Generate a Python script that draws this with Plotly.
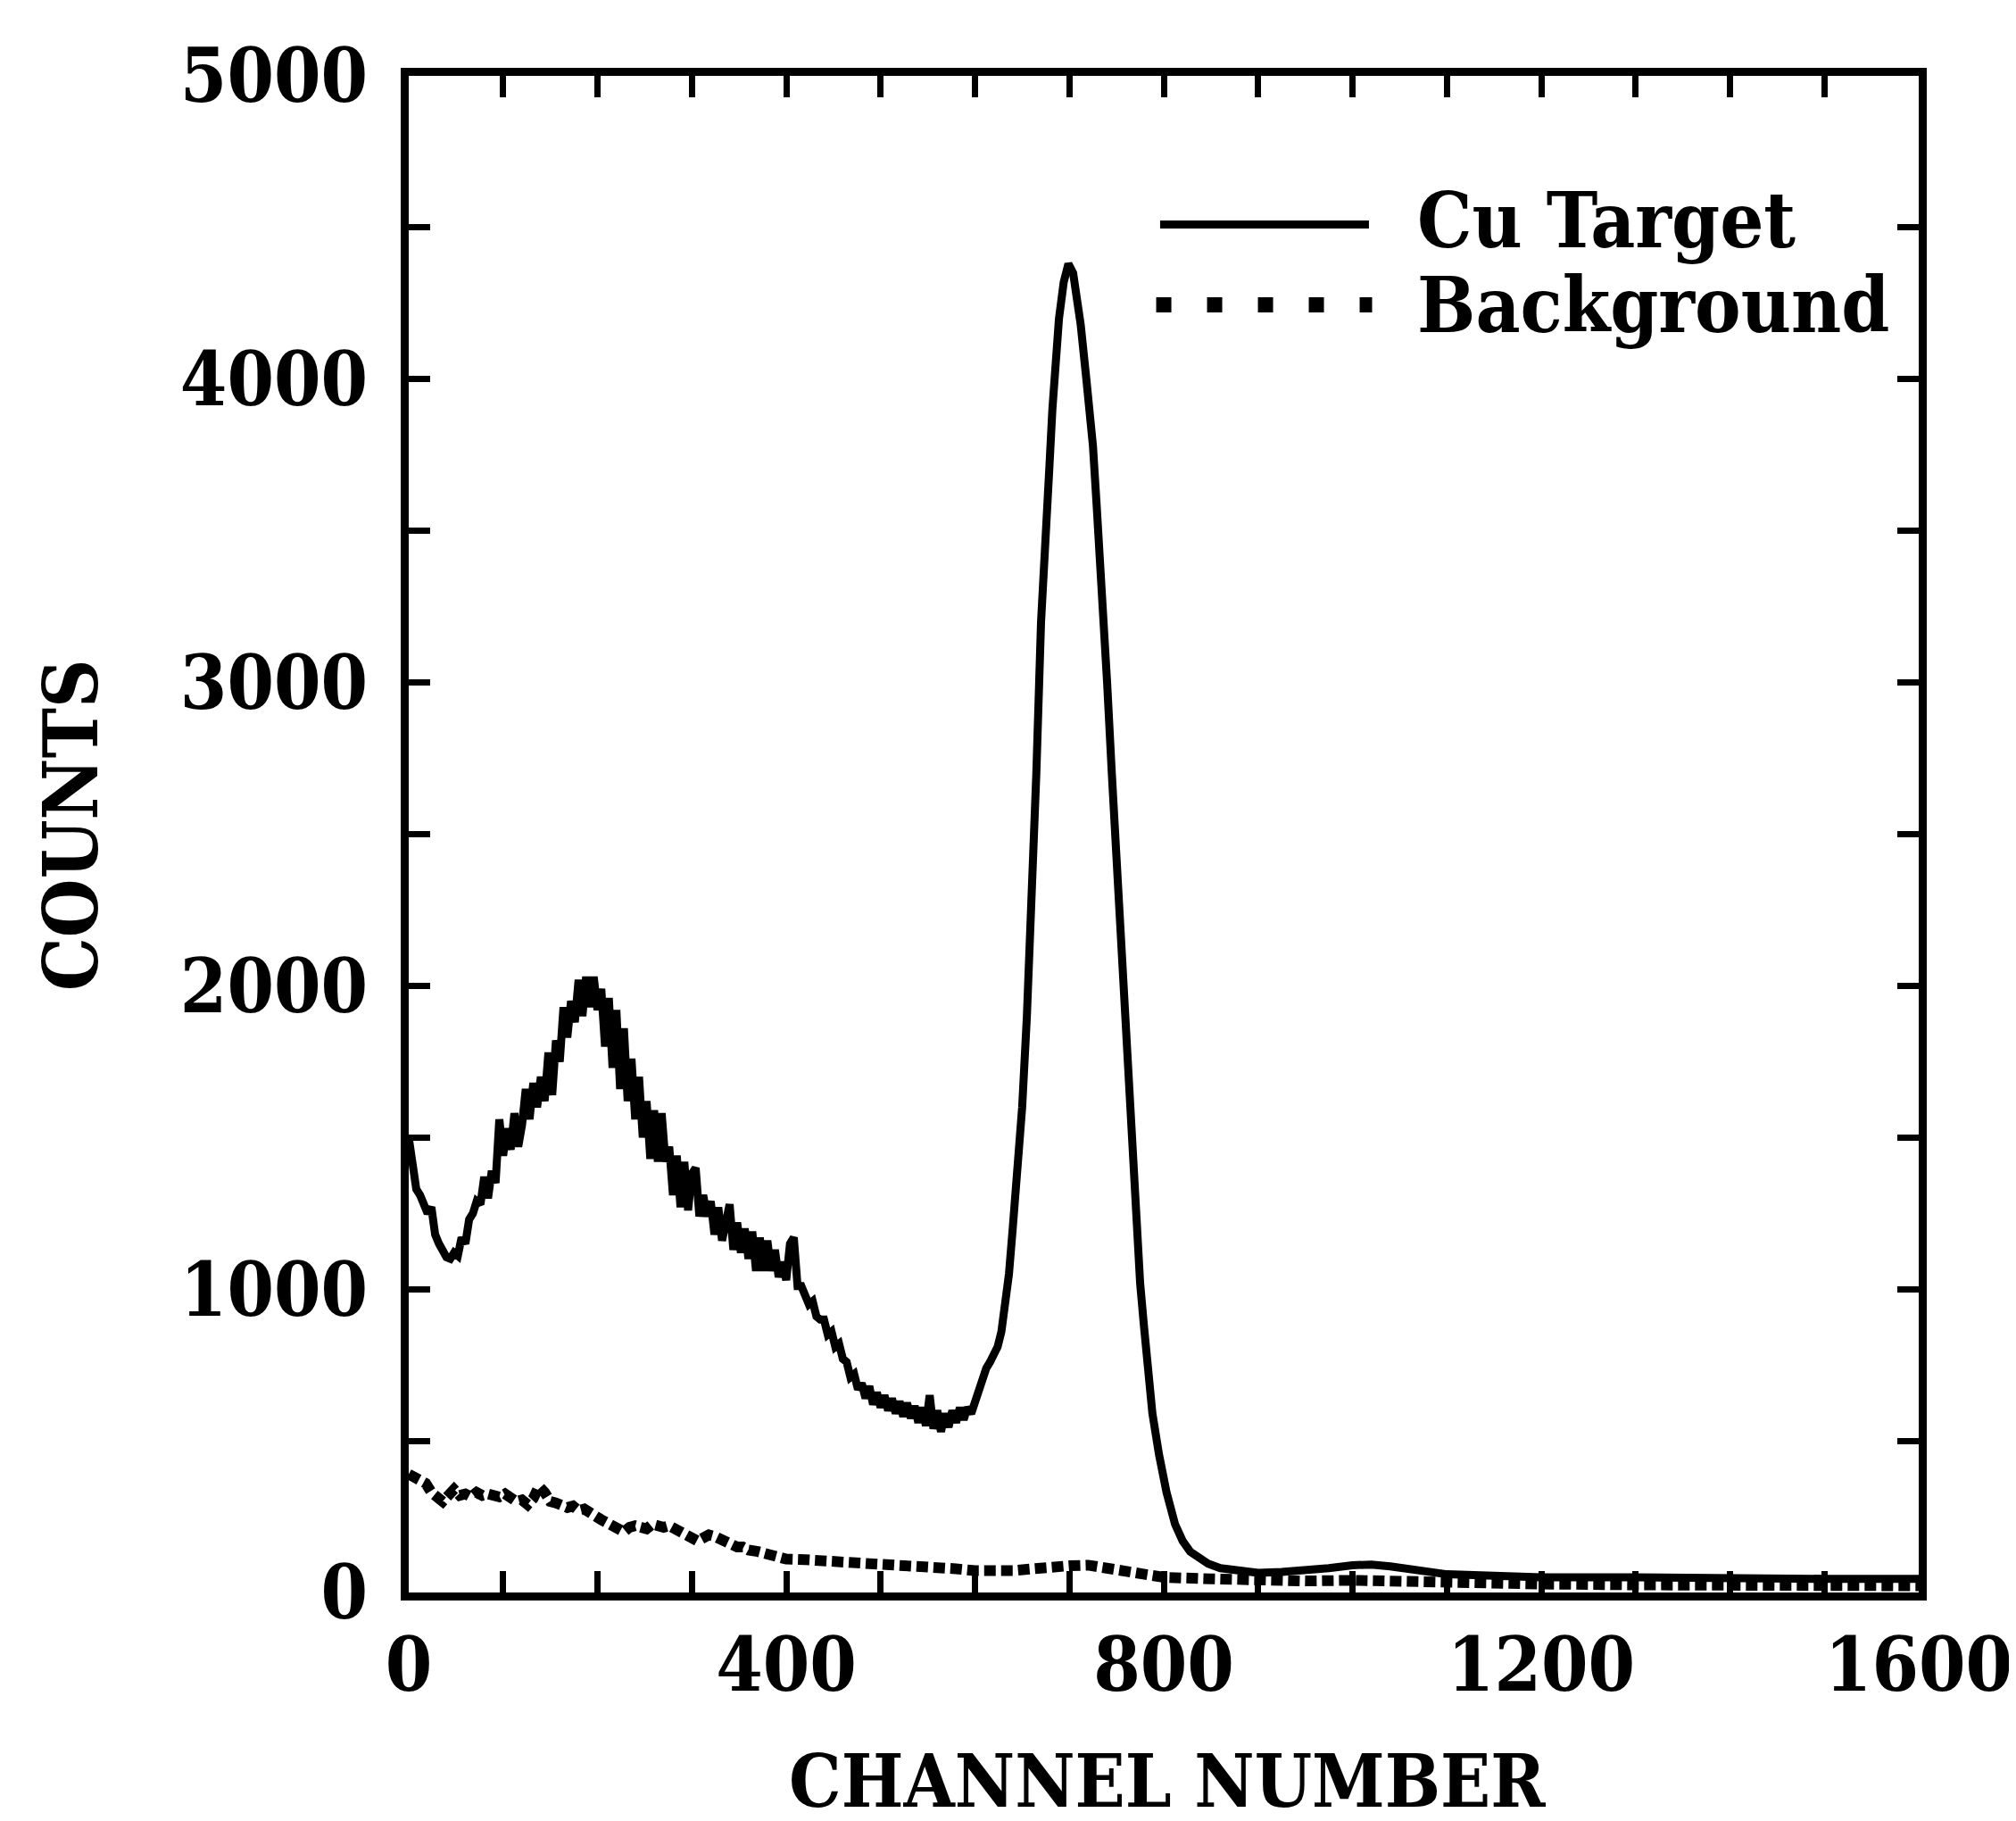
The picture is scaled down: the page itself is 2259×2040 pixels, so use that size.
import plotly.graph_objects as go

# ---- data ----
cu_channel = [0, 4, 8, 12, 16, 20, 24, 28, 32, 36, 40, 44, 48, 52, 56, 60, 64, 68, 72, 76,
              80, 84, 88, 92, 96, 100, 104, 108, 112, 116, 120, 124, 128, 132, 136, 140, 144, 148, 152, 156,
              160, 164, 168, 172, 176, 180, 184, 188, 192, 196, 200, 204, 208, 212, 216, 220, 224, 228, 232, 236,
              240, 244, 248, 252, 256, 260, 264, 268, 272, 276, 280, 284, 288, 292, 296, 300, 304, 308, 312, 316,
              320, 324, 328, 332, 336, 340, 344, 348, 352, 356, 360, 364, 368, 372, 376, 380, 384, 388, 392, 396,
              400, 404, 408, 412, 416, 420, 424, 428, 432, 436, 440, 444, 448, 452, 456, 460, 464, 468, 472, 476,
              480, 484, 488, 492, 496, 500, 504, 508, 512, 516, 520, 524, 528, 532, 536, 540, 544, 548, 552, 556,
              560, 564, 568, 572, 576, 580, 584, 588, 592, 596, 600, 604, 608, 612, 616, 620, 624, 628, 632, 636,
              640, 645, 650, 655, 660, 665, 670, 674, 679, 682, 685, 689, 694, 699, 704, 708, 712, 718, 725, 729,
              734, 740, 745, 750, 755, 760, 765, 770, 775, 779, 783, 788, 795, 803, 812, 820, 828, 838, 847, 860,
              880, 900, 925, 950, 975, 1000, 1020, 1040, 1060, 1080, 1100, 1150, 1200, 1300, 1400, 1500, 1600]
cu_counts = [1500, 1400, 1330, 1310, 1280, 1250, 1270, 1180, 1150, 1130, 1105, 1100, 1120, 1110, 1170, 1150, 1230, 1250, 1290, 1280,
             1370, 1300, 1390, 1350, 1560, 1440, 1530, 1460, 1580, 1470, 1540, 1660, 1560, 1680, 1600, 1700, 1620, 1780, 1640, 1820,
             1750, 1930, 1830, 1950, 1880, 2020, 1900, 2030, 1930, 2030, 1920, 1990, 1800, 1960, 1730, 1920, 1660, 1860, 1620, 1760,
             1560, 1700, 1500, 1620, 1430, 1590, 1420, 1580, 1420, 1470, 1310, 1440, 1270, 1420, 1260, 1380, 1400, 1240, 1310, 1240,
             1290, 1180, 1270, 1160, 1240, 1280, 1130, 1220, 1120, 1200, 1100, 1190, 1060, 1170, 1060, 1160, 1060, 1130, 1040, 1090,
             1030, 1150, 1170, 1010, 1010, 980, 950, 960, 910, 900, 900, 850, 860, 810, 820, 770, 760, 710, 720, 670,
             690, 640, 680, 620, 660, 610, 650, 600, 640, 590, 630, 580, 625, 575, 615, 560, 610, 550, 650, 540,
             600, 530, 590, 545, 600, 560, 610, 570, 610, 590, 630, 670, 710, 740, 760, 780, 810, 860, 940, 1050,
             1200, 1370, 1600, 1900, 2250, 2700, 3200, 3500, 3720, 3900, 4060, 4200, 4320, 4380, 4350, 4280, 4180, 4000, 3780, 3580,
             3350, 3000, 2700, 2400, 2120, 1830, 1550, 1260, 1020, 880, 740, 590, 455, 330, 225, 170, 135, 110, 95, 80,
             70, 65, 68, 72, 80, 90, 92, 86, 76, 68, 60, 55, 50, 50, 45, 45, 45]

bg_channel = [0, 6, 12, 18, 24, 30, 36, 42, 48, 54, 60, 66, 72, 78, 84, 90, 96, 102, 108, 114,
              120, 126, 132, 138, 144, 150, 156, 162, 168, 174, 180, 186, 192, 198, 204, 210, 216, 222, 228, 234,
              240, 246, 252, 258, 264, 270, 276, 282, 288, 294, 300, 306, 312, 318, 324, 330, 336, 342, 348, 354,
              360, 370, 380, 390, 400, 420, 440, 460, 480, 500, 520, 540, 560, 580, 600, 620, 640, 660, 680, 700,
              720, 740, 760, 780, 800, 850, 900, 950, 1000, 1050, 1100, 1200, 1300, 1400, 1500, 1600]
bg_counts = [390, 380, 370, 360, 330, 310, 300, 320, 340, 320, 325, 315, 330, 320, 325, 320, 315, 325, 310, 300,
             305, 290, 310, 350, 330, 300, 295, 290, 280, 285, 270, 275, 260, 250, 240, 230, 220, 205, 200, 215,
             220, 215, 210, 225, 220, 215, 220, 210, 195, 185, 175, 170, 180, 190, 185, 175, 165, 160, 150, 150,
             140, 135, 125, 115, 110, 108, 105, 100, 95, 90, 88, 85, 80, 78, 72, 70, 72, 78, 85, 88,
             90, 80, 70, 58, 50, 45, 40, 38, 40, 35, 30, 28, 25, 25, 22, 22]

x_tick_labels = [0, 400, 800, 1200, 1600]
y_tick_labels = [0, 1000, 2000, 3000, 4000, 5000]
series_names = ["Cu Target", "Background"]

FONT = "DejaVu Serif Condensed, DejaVu Serif, Liberation Serif, serif"

fig = go.Figure()
fig.add_trace(go.Scatter(x=bg_channel, y=bg_counts, mode="lines", name=series_names[1],
                         line=dict(color="black", width=12, dash="13px,6px"), showlegend=False))
fig.add_trace(go.Scatter(x=cu_channel, y=cu_counts, mode="lines", name=series_names[0],
                         line=dict(color="black", width=9), showlegend=False))

axis_common = dict(showline=True, linecolor="black", linewidth=9, mirror="ticks",
                   ticks="inside", ticklen=24, tickwidth=7, tickcolor="black",
                   showgrid=False, zeroline=False,
                   tickfont=dict(family=FONT, size=84, color="black", weight="bold"))

fig.update_xaxes(range=[0, 1600], tickvals=x_tick_labels, ticktext=[str(v) for v in x_tick_labels],
                 minor=dict(dtick=100, ticks="inside", ticklen=24, tickwidth=7, tickcolor="black", showgrid=False),
                 ticklabelstandoff=0, **axis_common)
fig.update_yaxes(range=[0, 5000], tickvals=y_tick_labels, ticktext=[str(v) for v in y_tick_labels],
                 minor=dict(dtick=500, ticks="inside", ticklen=24, tickwidth=7, tickcolor="black", showgrid=False),
                 ticklabelstandoff=20, **axis_common)

# legend drawn manually (paper coordinates)
fig.add_shape(type="line", xref="paper", yref="paper", x0=0.4976, x1=0.6359, y0=0.902, y1=0.902,
              line=dict(color="black", width=9))
fig.add_shape(type="line", xref="paper", yref="paper", x0=0.4950, x1=0.6380, y0=0.849, y1=0.849,
              line=dict(color="black", width=17, dash="17px,40px"))
fig.add_annotation(text=series_names[0], xref="paper", yref="paper", x=0.6665, y=0.905,
                   xanchor="left", yanchor="middle", showarrow=False,
                   font=dict(family=FONT, size=86, color="black", weight="bold"))
fig.add_annotation(text=series_names[1], xref="paper", yref="paper", x=0.6665, y=0.849,
                   xanchor="left", yanchor="middle", showarrow=False,
                   font=dict(family=FONT, size=86, color="black", weight="bold"))

# axis titles
fig.add_annotation(text="CHANNEL NUMBER", xref="paper", yref="paper", x=0.5024, y=-0.1536,
                   xanchor="center", yanchor="bottom", showarrow=False,
                   font=dict(family=FONT, size=82, color="black", weight="bold"))
fig.add_annotation(text="COUNTS", xref="paper", yref="paper", x=-0.224, y=0.506, textangle=-90,
                   xanchor="center", yanchor="middle", showarrow=False,
                   font=dict(family=FONT, size=84, color="black", weight="bold"))

fig.update_layout(width=2259, height=2040, margin=dict(l=450, r=109, t=77, b=264),
                  plot_bgcolor="white", paper_bgcolor="white", showlegend=False)

fig.write_html("out.html")
